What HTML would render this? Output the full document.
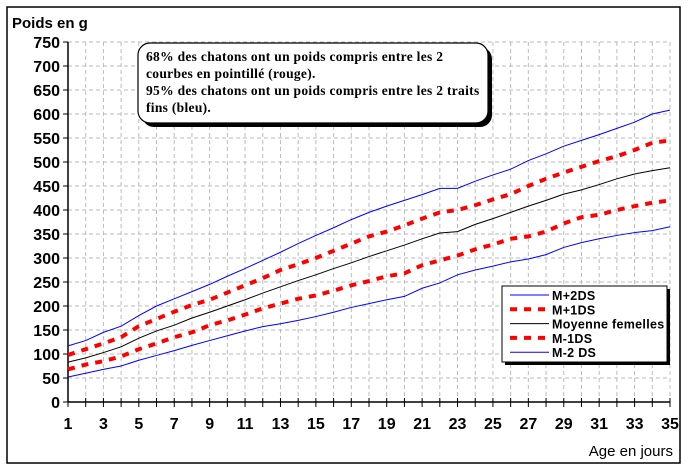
<!DOCTYPE html>
<html><head><meta charset="utf-8"><style>
body{margin:0;background:#fff;}
svg{display:block;font-family:"Liberation Sans",Arial,sans-serif;}
</style></head><body>
<svg id="chart" width="688" height="472" viewBox="0 0 688 472">
<rect x="7" y="7" width="673" height="456" fill="#fff" stroke="#000" stroke-width="1.5"/>
<text x="12" y="28" font-size="15" font-weight="bold">Poids en g</text>
<text x="673" y="456" font-size="15" text-anchor="end">Age en jours</text>
<g id="grid"></g><g id="axes"></g><g id="series"></g>
<g>
<rect x="142" y="47" width="350" height="80" rx="12" fill="#000"/>
<rect x="138" y="43" width="350" height="80" rx="12" fill="#fff" stroke="#000" stroke-width="1.2"/>
<text font-family="'Liberation Serif',serif" font-size="13.5" font-weight="bold" letter-spacing="0.3" fill="#000">
<tspan x="146" y="61">68% des chatons ont un poids compris entre les 2</tspan>
<tspan x="146" y="78">courbes en pointillé (rouge).</tspan>
<tspan x="146" y="95">95% des chatons ont un poids compris entre les 2 traits</tspan>
<tspan x="146" y="112">fins (bleu).</tspan></text>
</g>
<g>
<rect x="505" y="289" width="165" height="76" fill="#000"/>
<rect x="502" y="286" width="165" height="76" fill="#fff" stroke="#000"/>
<g id="legend-items"></g>
</g>
</svg>
<script>
const days=[];for(let d=1;d<=35;d++)days.push(d);
const yTicks=[0,50,100,150,200,250,300,350,400,450,500,550,600,650,700,750];
const xTickLabels=[1,3,5,7,9,11,13,15,17,19,21,23,25,27,29,31,33,35];
const m2p=[117,128,145,158,180,200,215,230,245,262,278,295,312,330,347,363,380,395,408,420,432,445,445,460,473,485,503,517,533,545,557,570,583,600,608];
const m1p=[98,110,122,135,158,173,188,202,213,228,243,258,275,287,300,315,330,345,355,368,382,395,400,410,422,433,450,465,478,490,502,512,525,540,545];
const mean=[83,92,103,115,133,148,160,175,187,200,213,227,240,253,265,278,290,303,315,327,340,352,355,370,382,395,408,420,433,442,453,465,475,482,488];
const m1m=[68,78,85,95,110,122,135,145,160,170,182,195,205,215,222,232,243,252,262,268,285,295,305,318,328,340,345,355,372,385,390,400,408,415,420];
const m2m=[52,60,68,75,87,97,107,118,128,138,148,157,163,170,178,187,197,205,213,220,237,248,265,275,283,292,298,307,322,332,340,347,353,357,365];
const NS='http://www.w3.org/2000/svg';
const X0=68,X1=670,Y0=402,Y1=42;
const xs=d=>X0+(d-1)*(X1-X0)/34;
const ys=v=>Y0-v*(Y0-Y1)/750;
function mk(t,a,p){const e=document.createElementNS(NS,t);for(const k in a)e.setAttribute(k,a[k]);p.appendChild(e);return e;}
const grid=document.getElementById('grid'),axes=document.getElementById('axes'),ser=document.getElementById('series');
days.forEach(d=>{if(d>1){const l=mk('line',{x1:xs(d),x2:xs(d),y1:Y1,y2:Y0,stroke:'#bbb','stroke-dasharray':'4,3'},grid);

}
const t=mk('line',{x1:xs(d),x2:xs(d),y1:Y0-4,y2:Y0+5,stroke:'#000'},axes);

});
yTicks.forEach(v=>{if(v>0){const l=mk('line',{x1:X0,x2:X1,y1:ys(v),y2:ys(v),stroke:'#bbb','stroke-dasharray':'4,3'},grid);

}
const t=mk('line',{x1:X0-5,x2:X0,y1:ys(v),y2:ys(v),stroke:'#000'},axes);


const tx=mk('text',{x:X0-8,y:ys(v)+6,'font-size':'16','font-weight':'bold','text-anchor':'end'},axes);tx.textContent=v;

});
xTickLabels.forEach(d=>{const tx=mk('text',{x:xs(d),y:Y0+27,'font-size':'16','font-weight':'bold','text-anchor':'middle'},axes);tx.textContent=d;

});
const ya=mk('line',{x1:X0,x2:X0,y1:Y1,y2:Y0,stroke:'#000','stroke-width':1.5},axes);


const xa=mk('line',{x1:X0,x2:X1,y1:Y0,y2:Y0,stroke:'#000','stroke-width':1.5},axes);


const S=[
{n:'M+2DS',d:m2p,c:'#0000ff',w:1,da:'',id:'series-m-plus-2ds'},
{n:'M+1DS',d:m1p,c:'#ff0000',w:4,da:'7,7',id:'series-m-plus-1ds'},
{n:'Moyenne femelles',d:mean,c:'#000',w:1,da:'',id:'series-mean-females'},
{n:'M-1DS',d:m1m,c:'#ff0000',w:4,da:'7,7',id:'series-m-minus-1ds'},
{n:'M-2 DS',d:m2m,c:'#0000ff',w:1,da:'',id:'series-m-minus-2ds'}];
const leg=document.getElementById('legend-items');
S.forEach((s,i)=>{const p=mk('polyline',{points:s.d.map((v,j)=>xs(days[j])+','+ys(v)).join(' '),fill:'none',stroke:s.c,'stroke-width':s.w,'stroke-dasharray':s.da},ser);


const y=300+i*14.3;
const g=mk('g',{},leg);


mk('line',{x1:510,x2:549,y1:y-5,y2:y-5,stroke:s.c,'stroke-width':s.w,'stroke-dasharray':s.da},g);
const t=mk('text',{x:552,y:y,'font-size':'12.5','font-weight':'bold','letter-spacing':'0.3'},g);t.textContent=s.n;});
</script>
</body></html>
